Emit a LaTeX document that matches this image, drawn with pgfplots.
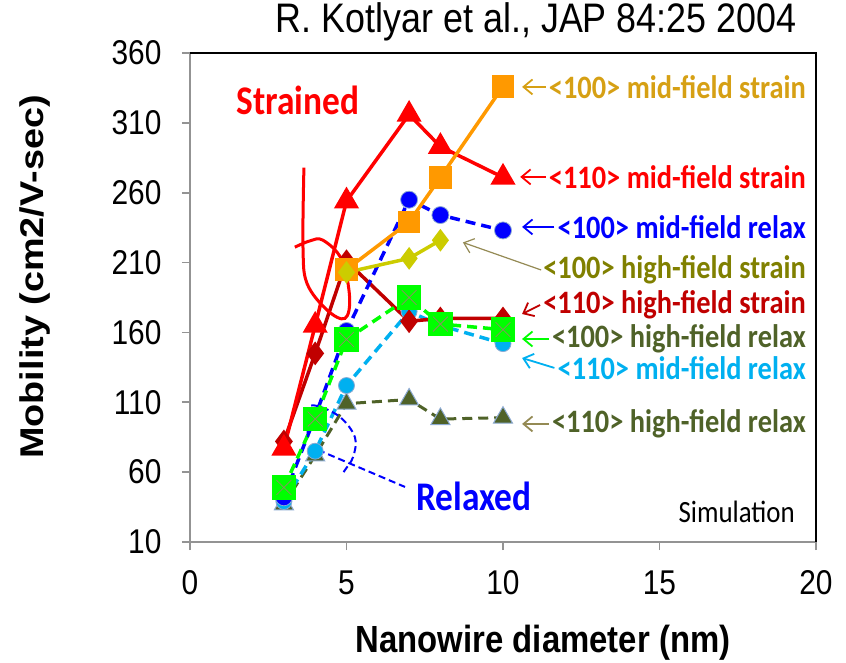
\documentclass[border=0pt]{standalone}
\usepackage{fontspec}
\setmainfont{Liberation Sans}
\newfontfamily\calfont{Carlito}
\usepackage{graphicx}
\usepackage{pgfplots}
\pgfplotsset{compat=1.18}
\usetikzlibrary{arrows.meta}
\definecolor{corange}{RGB}{255,153,0}
\definecolor{cred}{RGB}{255,0,0}
\definecolor{cblue}{RGB}{0,0,255}
\definecolor{cyel}{RGB}{204,204,0}
\definecolor{cdred}{RGB}{192,0,0}
\definecolor{cgreen}{RGB}{0,255,0}
\definecolor{clblue}{RGB}{0,176,240}
\definecolor{colive}{RGB}{79,98,40}
\definecolor{cgold}{RGB}{214,160,20}
\definecolor{colivet}{RGB}{128,128,0}
\definecolor{carrowol}{RGB}{148,138,84}
\definecolor{cedge}{RGB}{140,170,210}
\newcommand{\vs}[1]{\scalebox{1}[1.15]{#1}}
\begin{document}
\begin{tikzpicture}
\useasboundingbox (-190bp,-121bp) rectangle (656bp,542bp);
\begin{axis}[
  at={(0,0)}, anchor=south west,
  width=626bp, height=489bp, scale only axis,
  xmin=0, xmax=20, ymin=10, ymax=360,
  xtick={0,5,10,15,20}, ytick={10,60,...,360},
  axis x line*=bottom, axis y line*=left,
  axis line style={draw=gray!85, line width=1.6bp},
  tick style={draw=gray!85, line width=1.6bp},
  tick align=outside, major tick length=8bp,
  /pgf/number format/assume math mode=true,
  xticklabel={\vs{\pgfmathprintnumber{\tick}}},
  yticklabel={\vs{\pgfmathprintnumber{\tick}}},
  ticklabel style={font=\fontsize{30}{30}\selectfont},
  yticklabel style={xshift=-17bp},
  xticklabel style={yshift=-17bp},
  clip=false,
]
% <110> high-field relax
\addplot[colive, line width=3bp, dash pattern=on 10bp off 6bp, mark=triangle*, mark size=11bp,
  mark options={solid, fill=colive, draw=cedge, line width=1bp}] coordinates {(3,37) (4,72) (5,109) (7,112) (8,98) (10,99)};
% <110> mid-field relax
\addplot[clblue, line width=3.5bp, dash pattern=on 10bp off 6bp, mark=*, mark size=8bp,
  mark options={solid, fill=clblue, draw=cedge, line width=0.8bp}] coordinates {(3,39) (4,75) (5,122) (7,175) (8,165) (10,152)};
% <110> high-field strain
\addplot[cdred, line width=3.5bp, mark=diamond*, mark size=9bp,
  mark options={solid, fill=cdred, draw=cdred}] coordinates {(3,82) (4,145) (5,211) (7,168) (8,170) (10,170)};
% <110> mid-field strain
\addplot[cred, line width=3.5bp, mark=triangle*, mark size=11bp,
  mark options={solid, fill=cred, draw=cred}] coordinates {(3,77) (4,165) (5,254) (7,316) (8,293) (10,271)};
% <100> mid-field relax
\addplot[cblue, line width=3.5bp, dash pattern=on 10bp off 6bp, mark=*, mark size=8.5bp,
  mark options={solid, fill=cblue, draw=cedge, line width=0.8bp}] coordinates {(3,42) (4,100) (5,161) (7,255) (8,244) (10,233)};
% <100> mid-field strain
\addplot[corange, line width=3.5bp, mark=square*, mark size=9.5bp,
  mark options={solid, fill=corange, draw=corange}] coordinates {(5,205) (7,239) (8,271) (10,336)};
% <100> high-field strain
\addplot[cyel, line width=3.5bp, mark=diamond*, mark size=8.5bp,
  mark options={solid, fill=cyel, draw=cyel}] coordinates {(5,203) (7,213) (8,226)};
% <100> high-field relax
\addplot[cgreen, line width=3.5bp, dash pattern=on 10bp off 6bp, mark=square*, mark size=10.5bp,
  mark options={solid, fill=cgreen, draw=cgreen}] coordinates {(3,49) (4,98) (5,155) (7,185) (8,166) (10,162)};
\addplot[only marks, mark=x, mark size=10.5bp, mark options={draw=gray!70!olive, line width=0.8bp}]
  coordinates {(3,49) (4,98) (5,155) (7,185) (8,166) (10,162)};

% annotation loops
\draw[cred, line width=3bp] plot[smooth, tension=0.6] coordinates {
  (axis cs:3.64,278) (axis cs:3.61,221) (axis cs:3.74,195) (axis cs:4.38,176) (axis cs:4.95,170)
  (axis cs:5.1,185) (axis cs:4.85,212) (axis cs:4.25,226) (axis cs:3.83,225.5) (axis cs:3.35,221)};
\draw[cblue, line width=2bp, dash pattern=on 7bp off 4bp] plot[smooth, tension=0.6] coordinates {
  (axis cs:3.77,85) (axis cs:3.77,104.5) (axis cs:4.06,107.4) (axis cs:4.79,99.5) (axis cs:5.27,85)
  (axis cs:5.21,70.8) (axis cs:4.95,61.5) (axis cs:4.89,59.4)};
\draw[cblue, line width=2bp, dash pattern=on 7bp off 4bp] (axis cs:4.09,75.9) -- (axis cs:6.87,49.4);

% texts
\node[cred, font=\calfont\bfseries\fontsize{35.5}{35.5}\selectfont] at (axis cs:3.45,326) {\vs{Strained}};
\node[cblue, font=\calfont\bfseries\fontsize{35.5}{35.5}\selectfont] at (axis cs:9.07,43) {\vs{Relaxed}};
\node[anchor=east, font=\calfont\fontsize{27}{27}\selectfont, inner sep=0pt] at (axis cs:19.33,31.5) {\vs{Simulation}};

\tikzset{lab/.style={anchor=east, inner sep=0pt, font=\calfont\bfseries\fontsize{28.5}{28.5}\selectfont},
  arr/.style={line width=1.8bp, -{Straight Barb[length=9bp,width=15bp]}}}
\node[lab, cgold] (L1) at (axis cs:19.68,335.7) {\vs{<100> mid-field strain}};
\node[lab, cred] (L2) at (axis cs:19.68,271.3) {\vs{<110> mid-field strain}};
\node[lab, cblue] (L3) at (axis cs:19.68,235.5) {\vs{<100> mid-field relax}};
\node[lab, colivet] (L4) at (axis cs:19.68,204.7) {\vs{<100> high-field strain}};
\node[lab, cdred] (L5) at (axis cs:19.68,179.6) {\vs{<110> high-field strain}};
\node[lab, colive] (L6) at (axis cs:19.68,155.3) {\vs{<100> high-field relax}};
\node[lab, clblue] (L7) at (axis cs:19.68,134.6) {\vs{<110> mid-field relax}};
\node[lab, colive] (L8) at (axis cs:19.68,94.5) {\vs{<110> high-field relax}};
\draw[arr, cgold] ([xshift=-3bp]L1.west) -- (axis cs:10.61,335.7);
\draw[arr, cred] ([xshift=-3bp]L2.west) -- (axis cs:10.55,271.3);
\draw[arr, cblue] ([xshift=-3bp]L3.west) -- (axis cs:10.61,235.5);
\draw[carrowol, line width=1.2bp, -{Straight Barb[length=9bp,width=15bp]}] ([xshift=-2bp]L4.west) -- (axis cs:8.72,224.4);
\draw[arr, cdred] ([xshift=-3bp]L5.west) -- (axis cs:10.61,173.2);
\draw[arr, cgreen] ([xshift=-3bp]L6.west) -- (axis cs:10.61,155.3);
\draw[arr, clblue] ([xshift=-3bp]L7.west) -- (axis cs:10.61,141.7);
\draw[arr, carrowol] ([xshift=-3bp]L8.west) -- (axis cs:10.61,94.5);

% frame top/right
\draw[black, line width=1.2bp] (rel axis cs:0,1) -- (rel axis cs:1,1) -- (rel axis cs:1,0);

% axis labels and title
\node[font=\bfseries\fontsize{33}{33}\selectfont, rotate=90] at ([xshift=-155bp]rel axis cs:0,0.542) {\scalebox{1.15}[1]{Mobility (cm2/V-sec)}};
\node[font=\bfseries\fontsize{33}{33}\selectfont] at ([yshift=-101bp]rel axis cs:0.564,0) {\vs{Nanowire diameter (nm)}};
\node[font=\fontsize{36}{36}\selectfont] at ([yshift=31bp]rel axis cs:0.553,1) {\vs{R. Kotlyar et al., JAP 84:25 2004}};
\end{axis}
\end{tikzpicture}
\end{document}
